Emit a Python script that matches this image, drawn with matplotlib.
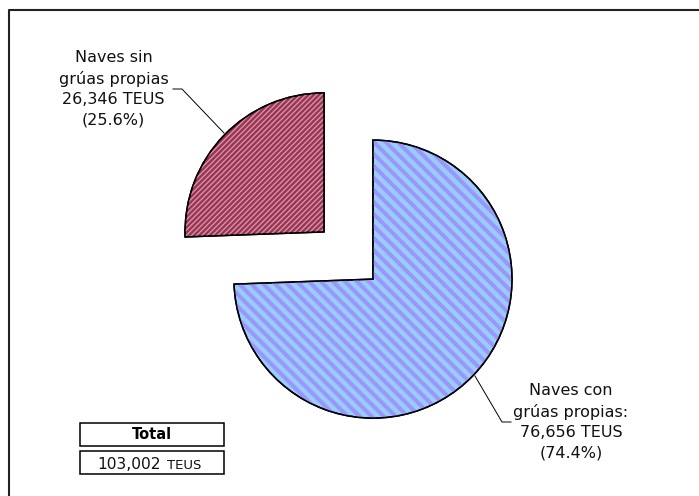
import numpy as np
import matplotlib.pyplot as plt
import matplotlib.patches as mpatches
from matplotlib.collections import LineCollection

# datos
etiquetas = ["Naves con\ngrúas propias:\n76,656 TEUS\n(74.4%)",
             "Naves sin\ngrúas propias\n26,346 TEUS\n(25.6%)"]
teus = [76656, 26346]
total_txt = "103,002"
colores_fondo = ["#99ccff", "#993366"]
colores_raya = ["#9a96fb", "#dc9f8a"]

W, H = 699, 496
plt.rcParams['font.family'] = ['DejaVu Sans']


def sy(y):
    # coordenada de pantalla -> eje
    return H - y


fig = plt.figure(figsize=(W / 100, H / 100), dpi=100)
ax = fig.add_axes([0, 0, 1, 1])

wedges, _ = ax.pie(teus, startangle=90, counterclock=False, explode=[34, 34],
                   radius=139, center=(348.5, sy(255.5)), colors=colores_fondo,
                   wedgeprops=dict(edgecolor='black', linewidth=1.1), frame=True)

# rayado diagonal recortado a cada sector (direccion, paso px, grosor pt)
rayas = [((1, -1), 8.5, 2.9), ((1, 1), 3.7, 0.9)]
for w, (u, paso, grosor), col in zip(wedges, rayas, colores_raya):
    cx, cy = w.center
    r = w.r
    u = np.array(u) / np.sqrt(2)
    n = np.array([-u[1], u[0]])
    segs = []
    for d in np.arange(-1.5 * r, 1.5 * r, paso):
        p = np.array([cx, cy]) + d * n
        segs.append([p - 1.6 * r * u, p + 1.6 * r * u])
    lc = LineCollection(segs, colors=col, linewidths=grosor, zorder=w.get_zorder() + 0.1)
    ax.add_collection(lc)
    lc.set_clip_path(w)
    # contorno encima del rayado
    ax.add_patch(mpatches.Wedge(w.center, w.r, w.theta1, w.theta2, fill=False,
                                edgecolor='black', linewidth=1.1, zorder=w.get_zorder() + 0.2))

# etiquetas y lineas guia
ax.plot([173, 182, 224], [sy(89), sy(89), sy(133)], color='black', lw=0.7)
ax.plot([475, 502, 511], [sy(376), sy(422), sy(422)], color='black', lw=0.7)
ax.text(113.5, sy(89), etiquetas[1], ha='center', va='center', fontsize=11.5,
        linespacing=1.45, color='#111111')
ax.text(571, sy(422), etiquetas[0], ha='center', va='center', fontsize=11.5,
        linespacing=1.45, color='#111111')

# cuadro total
ax.add_patch(mpatches.Rectangle((80, sy(446)), 144, 23, facecolor='white', edgecolor='black', lw=1.1))
ax.add_patch(mpatches.Rectangle((80, sy(474)), 144, 23, facecolor='white', edgecolor='black', lw=1.1))
ax.text(152, sy(434.5), "Total", ha='center', va='center', fontsize=10.5, fontweight='bold')
ax.text(161, sy(469), total_txt, ha='right', va='baseline', fontsize=11.2, color='#111111')
ax.text(167, sy(469), "TEUS", ha='left', va='baseline', fontsize=9.5, color='#111111')

# marco (solo lados superior e izquierdo visibles)
ax.plot([8.5, 8.5, W + 5], [sy(H + 5), sy(9.5), sy(9.5)], color='#222222', lw=1.5)

ax.set_xlim(0, W)
ax.set_ylim(0, H)
ax.set_axis_off()
fig.savefig("out.png", dpi=100)
